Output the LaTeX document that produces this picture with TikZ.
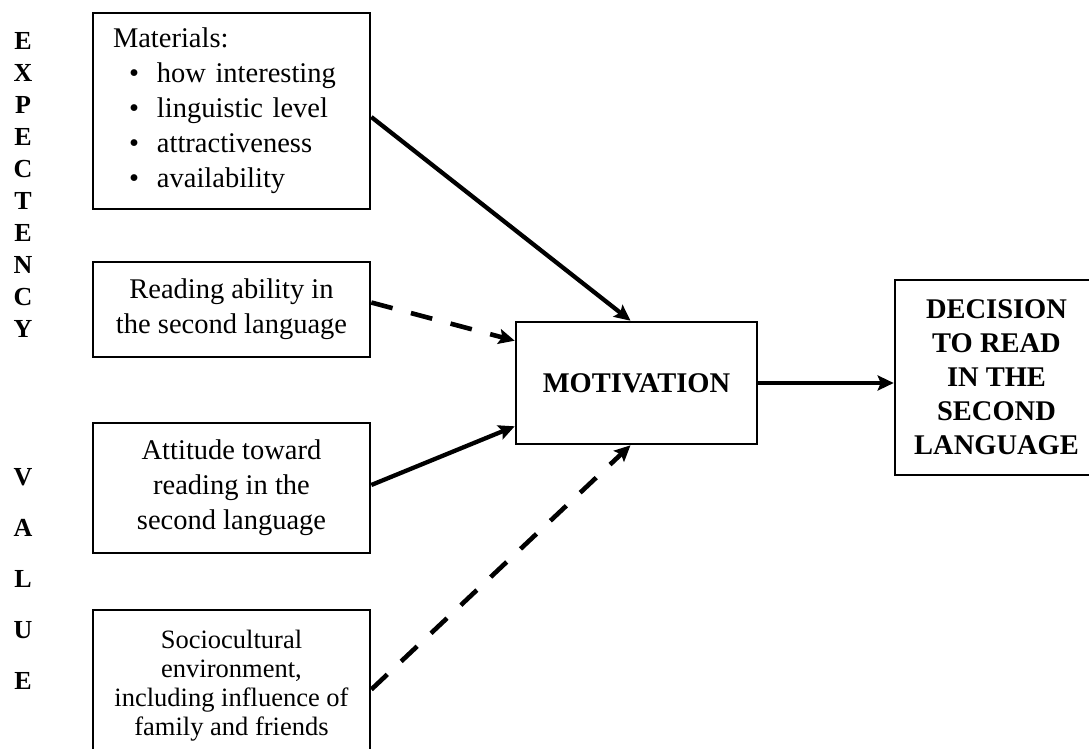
\documentclass[tikz,border=0pt]{standalone}
\usepackage{fontspec}
\setmainfont{Liberation Serif}
\usetikzlibrary{arrows.meta,calc}
\begin{document}
\begin{tikzpicture}[x=1pt,y=-1pt,
  box/.style={draw, line width=2.6pt, inner sep=0pt, align=center, font=\fontsize{28.5}{35}\selectfont},
  boldbox/.style={box, font=\bfseries\fontsize{28.5}{34}\selectfont},
  sidetext/.style={align=center, inner sep=0pt},
  conn/.style={line width=4.3pt, -{Stealth[length=16pt,width=15pt,inset=3pt]}},
  dashconn/.style={conn, line width=4.6pt, dash pattern=on 22pt off 19pt}]
\useasboundingbox (0,0) rectangle (1089,749);

\node[sidetext, font=\bfseries\fontsize{26}{32}\selectfont] (exp) at (23,185) {E\\X\\P\\E\\C\\T\\E\\N\\C\\Y};
\node[sidetext, font=\bfseries\fontsize{26}{51}\selectfont] (val) at (23,579) {V\\A\\L\\U\\E};

\node[box, minimum width=277pt, minimum height=196pt, inner xsep=20pt, text width=237pt, align=left] (mat) at (231.5,111)
  {Materials:\\
   \hspace*{16pt}\makebox[28pt][l]{\textbullet}how interesting\\
   \hspace*{16pt}\makebox[28pt][l]{\textbullet}linguistic level\\
   \hspace*{16pt}\makebox[28pt][l]{\textbullet}attractiveness\\
   \hspace*{16pt}\makebox[28pt][l]{\textbullet}availability};
\node[box, minimum width=277pt, minimum height=95pt] (read) at (231.5,309.5) {Reading ability in\\the second language};
\node[box, minimum width=277pt, minimum height=130pt] (att) at (231.5,488) {Attitude toward\\reading in the\\second language};
\node[box, minimum width=277pt, minimum height=151pt, font=\fontsize{26.5}{29}\selectfont] (soc) at (231.5,685.5) {Sociocultural\\environment,\\including influence of\\family and friends};
\node[boldbox, minimum width=241pt, minimum height=122pt] (mot) at (636.5,383) {MOTIVATION};
\node[boldbox, minimum width=203pt, minimum height=195pt] (dec) at (996.5,377.5) {DECISION\\TO READ\\IN THE\\SECOND\\LANGUAGE};

\draw[conn] ($(mat.east)+(0,6)$) -- ($(mot.north)+(-6,0)$);
\draw[dashconn] ($(read.east)+(0,-7)$) -- ($(mot.north west)+(0,20)$);
\draw[conn] ($(att.east)+(0,-3)$) -- ($(mot.south west)+(0,-19)$);
\draw[dashconn] ($(soc.east)+(0,4)$) -- ($(mot.south)+(-6,0)$);
\draw[conn] (mot.east) -- (mot.east -| dec.west);
\end{tikzpicture}
\end{document}
